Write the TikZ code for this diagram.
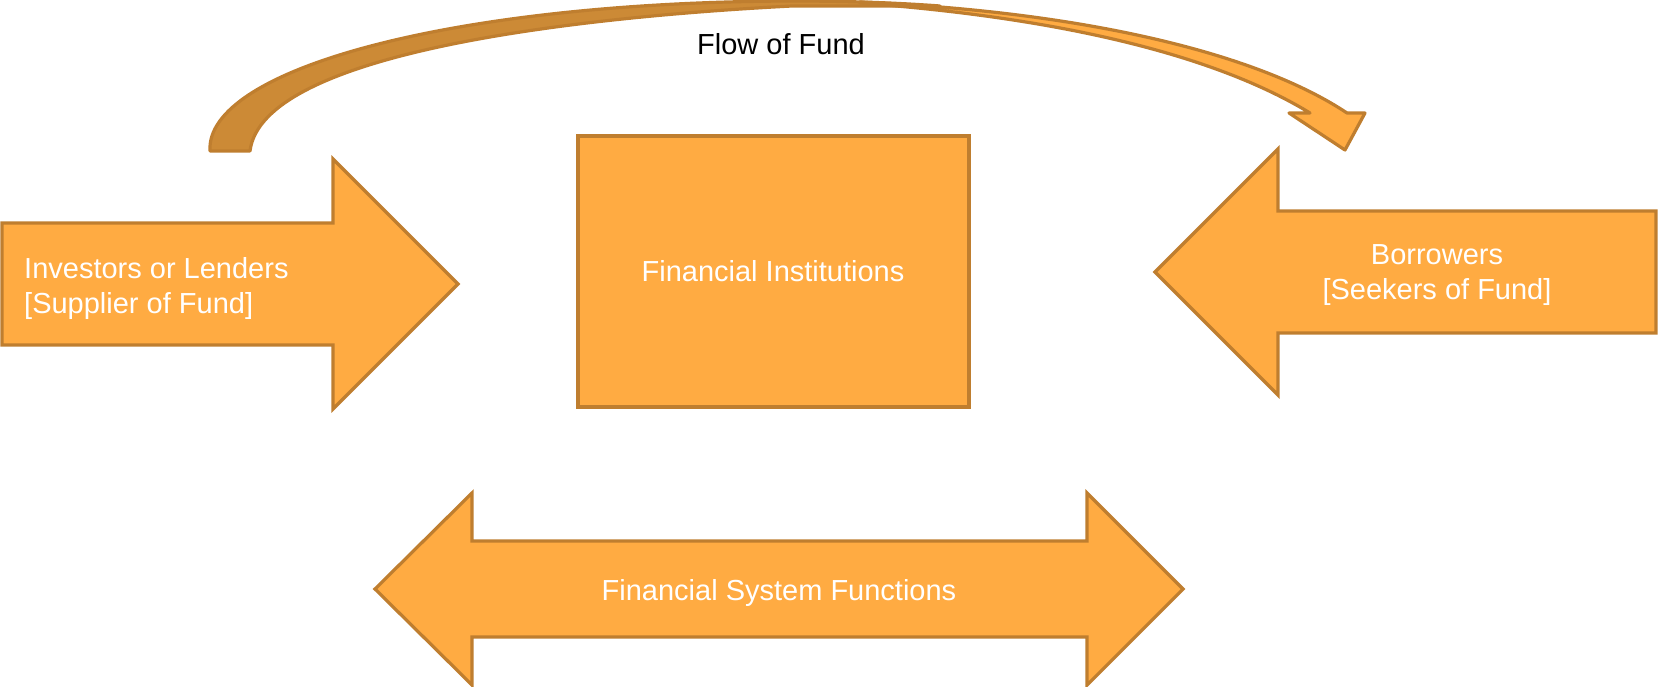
\documentclass[tikz,border=0pt]{standalone}
\usepackage{fontspec}
\setmainfont{Liberation Sans}
\definecolor{fundfill}{HTML}{FFAB42}
\definecolor{fundline}{HTML}{BF7E2F}
\definecolor{fundback}{HTML}{CC8A36}

\begin{document}
\begin{tikzpicture}[x=1pt, y=-1pt,
  blockarrow/.style={fill=fundfill, draw=fundline, line width=3.2pt, line join=miter},
  lbl/.style={text=white, font=\fontsize{29}{35}\selectfont, inner sep=0pt}]
  \useasboundingbox (0,0) rectangle (1658,687);
  \filldraw[fundback, draw=fundline, line width=3.2pt, line join=round]
    (210,151) .. controls (205,70) and (450,2) .. (792,1) .. controls (850,1) and (900,3) .. (940,6)
    .. controls (900,6) and (850,6) .. (792,6) .. controls (560,18) and (262,55) .. (250,151) -- cycle;
  \draw[blockarrow, line join=round]
    (860,2) .. controls (1090,12) and (1260,55) .. (1347,113) -- (1365,113) -- (1345,150) -- (1289,113) -- (1310,113)
    .. controls (1230,64) and (1090,20) .. (860,3) -- cycle;
  \node[lbl, text=black, anchor=base] (flow) at (781,55) {Flow of Fund};
  \draw[blockarrow] (2,223) -- (333,223) -- (333,159) -- (458,284) -- (333,409) -- (333,345) -- (2,345) -- cycle;
  \draw[blockarrow] (1656,211) -- (1278,211) -- (1278,149) -- (1155,272) -- (1278,395) -- (1278,333) -- (1656,333) -- cycle;
  \draw[blockarrow] (578,136) rectangle (969,407);
  \draw[blockarrow] (472,541) -- (1087,541) -- (1087,493) -- (1183,589) -- (1087,685) -- (1087,637)
    -- (472,637) -- (472,685) -- (375,589) -- (472,493) -- cycle;
  \node[lbl, anchor=base west, align=left] (lend) at (24,313) {Investors or Lenders\\ {[}Supplier of Fund{]}};
  \node[lbl, anchor=base, align=center] (borr) at (1437,299) {Borrowers\\ {[}Seekers of Fund{]}};
  \node[lbl, anchor=base] (inst) at (773,282) {Financial Institutions};
  \node[lbl, anchor=base] (func) at (779,600) {Financial System Functions};
\end{tikzpicture}
\end{document}
